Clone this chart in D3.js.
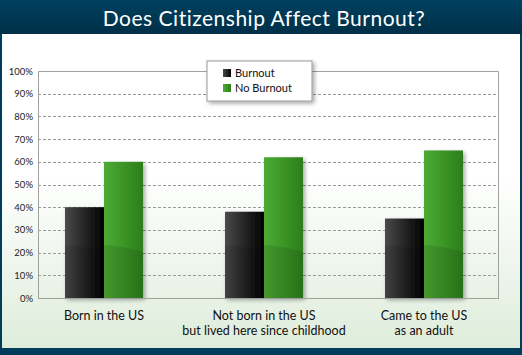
<!DOCTYPE html>
<html><head><meta charset="utf-8">
<script src="https://cdn.jsdelivr.net/npm/d3@7"></script>
<style>html,body{margin:0;padding:0;background:#003a57;}svg{display:block;}</style>
</head><body>
<svg id="c" width="522" height="355"></svg>
<script>
const title = "Does Citizenship Affect Burnout?";
const categories = [["Born in the US"], ["Not born in the US", "but lived here since childhood"], ["Came to the US", "as an adult"]];
const seriesNames = ["Burnout", "No Burnout"];
const burnout = [40, 38, 35];
const noBurnout = [60, 62, 65];
const yTicks = [0, 10, 20, 30, 40, 50, 60, 70, 80, 90, 100];

const svg = d3.select("#c");
const W = 522, H = 355;
const font = "'Lato', 'Open Sans', sans-serif";
const defs = svg.append("defs");

const tg = defs.append("linearGradient").attr("id", "tg").attr("x1", 0).attr("y1", 0).attr("x2", 0).attr("y2", 1);
tg.append("stop").attr("offset", 0).attr("stop-color", "#00415f");
tg.append("stop").attr("offset", 1).attr("stop-color", "#002f48");
const bg = defs.append("linearGradient").attr("id", "bg").attr("x1", 0).attr("y1", 0).attr("x2", 0).attr("y2", 1);
bg.append("stop").attr("offset", 0).attr("stop-color", "#ffffff");
bg.append("stop").attr("offset", 0.45).attr("stop-color", "#ffffff");
bg.append("stop").attr("offset", 1).attr("stop-color", "#deeddb");
const dg = defs.append("linearGradient").attr("id", "dg").attr("x1", 0).attr("y1", 0).attr("x2", 1).attr("y2", 0);
dg.append("stop").attr("offset", 0).attr("stop-color", "#4a4a4a");
dg.append("stop").attr("offset", 1).attr("stop-color", "#000000");
const gg = defs.append("linearGradient").attr("id", "gg").attr("x1", 0).attr("y1", 0).attr("x2", 1).attr("y2", 0);
gg.append("stop").attr("offset", 0).attr("stop-color", "#4bab33");
gg.append("stop").attr("offset", 1).attr("stop-color", "#2d7e1c");
const sh = defs.append("filter").attr("id", "sh").attr("x", "-20%").attr("y", "-20%").attr("width", "150%").attr("height", "150%");
sh.append("feGaussianBlur").attr("in", "SourceAlpha").attr("stdDeviation", 2);
sh.append("feOffset").attr("dx", 2).attr("dy", 2).attr("result", "b");
sh.append("feComponentTransfer").append("feFuncA").attr("type", "linear").attr("slope", 0.35);
const m = sh.append("feMerge");
m.append("feMergeNode");
m.append("feMergeNode").attr("in", "SourceGraphic");

// frame
svg.append("rect").attr("x", 0).attr("y", 0).attr("width", W).attr("height", H).attr("fill", "#003d5a");
svg.append("rect").attr("x", 0).attr("y", 0).attr("width", W).attr("height", 34).attr("fill", "url(#tg)");
svg.append("rect").attr("x", 2).attr("y", 34).attr("width", 518).attr("height", 314).attr("fill", "url(#bg)");
svg.append("text").attr("x", 264).attr("y", 26).attr("text-anchor", "middle").attr("fill", "#fff")
  .attr("font-family", font).attr("font-size", 21).attr("letter-spacing", 0.5).text(title);

const pLeft = 38, pRight = 498, pTop = 71, pBottom = 298;
const y = d3.scaleLinear().domain([0, 100]).range([pBottom, pTop]);
const x0 = d3.scaleBand().domain(d3.range(categories.length)).range([24, 504]);
const x1 = d3.scaleBand().domain(seriesNames).range([-39, 39]);

// grid
svg.append("g").selectAll("line").data(yTicks.filter(t => t > 0 && t < 100)).join("line")
  .attr("x1", pLeft).attr("x2", pRight).attr("y1", d => Math.round(y(d)) + 0.5).attr("y2", d => Math.round(y(d)) + 0.5)
  .attr("stroke", "#9a9a9a").attr("stroke-dasharray", "3,2");
svg.append("path").attr("d", `M${pLeft + 0.5},${pBottom}V${pTop + 0.5}H${pRight + 0.5}V${pBottom}`)
  .attr("fill", "none").attr("stroke", "#a0a0a0").attr("stroke-width", 1);

// y axis
const ya = d3.axisLeft(y).tickValues(yTicks).tickFormat(d => d + "%").tickSize(0).tickPadding(5);
const yg = svg.append("g").attr("transform", `translate(${pLeft},0)`).call(ya);
yg.select(".domain").remove();
yg.selectAll("text").attr("font-family", font).attr("font-size", 9.5).attr("fill", "#222");

// bars
const data = categories.map((c, i) => ({ i, vals: [burnout[i], noBurnout[i]] }));
const grp = svg.append("g").selectAll("g").data(data).join("g")
  .attr("transform", d => `translate(${x0(d.i) + x0.bandwidth() / 2},0)`);
grp.selectAll("rect").data(d => d.vals.map((v, k) => ({ v, k }))).join("rect")
  .attr("x", d => x1(seriesNames[d.k])).attr("width", x1.bandwidth())
  .attr("y", d => y(d.v)).attr("height", d => pBottom - y(d.v))
  .attr("fill", d => d.k === 0 ? "url(#dg)" : "url(#gg)").attr("filter", "url(#sh)");
grp.selectAll("path.gl").data(d => d.vals.map((v, k) => ({ v, k }))).join("path").attr("class", "gl")
  .attr("d", d => {
    const xs = x1(seriesNames[d.k]), w = x1.bandwidth();
    const yb = pBottom - 54;
    return `M${xs},${yb + 1}Q${xs + w / 2},${yb + 2} ${xs + w},${yb + 8}V${pBottom}H${xs}Z`;
  })
  .attr("fill", "#000").attr("opacity", 0.1);

// x axis
svg.append("line").attr("x1", pLeft).attr("x2", pRight + 1).attr("y1", pBottom + 0.5).attr("y2", pBottom + 0.5)
  .attr("stroke", "#a0a0a0");
const xl = svg.append("g").selectAll("text").data(categories).join("text")
  .attr("x", (d, i) => x0(i) + x0.bandwidth() / 2).attr("y", 320)
  .attr("text-anchor", "middle").attr("font-family", font).attr("font-size", 12.5).attr("fill", "#111");
xl.each(function (d) {
  const xx = d3.select(this).attr("x");
  d3.select(this).selectAll("tspan").data(d).join("tspan")
    .attr("x", xx).attr("dy", (t, k) => k === 0 ? 0 : 14.5).text(t => t);
});

// legend
const lg = svg.append("g").attr("transform", "translate(207,61)");
lg.append("rect").attr("width", 105).attr("height", 40).attr("fill", "#fff").attr("stroke", "#999")
  .attr("filter", "url(#sh)");
seriesNames.forEach((s, k) => {
  lg.append("rect").attr("x", 16).attr("y", 8 + k * 15).attr("width", 8).attr("height", 8)
    .attr("fill", k === 0 ? "url(#dg)" : "url(#gg)");
  lg.append("text").attr("x", 28).attr("y", 16 + k * 15).attr("font-family", font).attr("font-size", 11)
    .attr("fill", "#111").text(s);
});
</script>
</body></html>
